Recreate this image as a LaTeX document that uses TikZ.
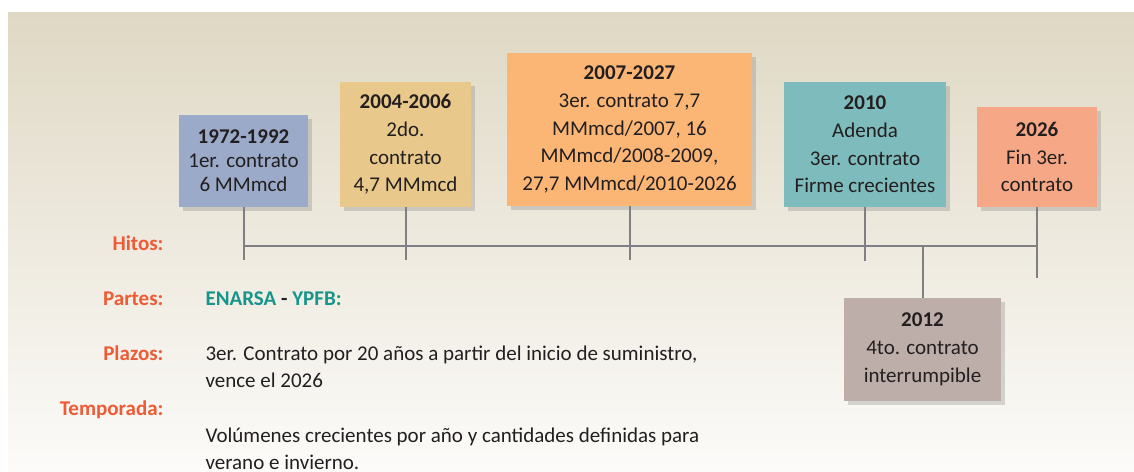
\documentclass[tikz,border=0pt]{standalone}
\usepackage{fontspec}
\setmainfont{Carlito}
\usetikzlibrary{shadows}

\definecolor{linegray}{HTML}{808084}
\definecolor{darktext}{HTML}{231F20}
\definecolor{rojo}{HTML}{EF5B35}
\definecolor{verde}{HTML}{16958A}
\definecolor{azul}{HTML}{9BAAC9}
\definecolor{ocre}{HTML}{E9C98B}
\definecolor{naranja}{HTML}{FBB676}
\definecolor{turquesa}{HTML}{7EBBBC}
\definecolor{salmon}{HTML}{F6A886}
\definecolor{gris}{HTML}{BDAEA9}

\tikzset{
  hito/.style={rectangle, inner sep=0pt, align=center, text=darktext,
    font=\fontsize{21}{27.7}\selectfont,
    drop shadow={shadow xshift=4pt, shadow yshift=-4pt, opacity=0.3}},
  etiqueta/.style={anchor=base east, text=rojo, font=\fontsize{21}{27}\selectfont\bfseries},
  texto/.style={anchor=base west, align=left, text=darktext, font=\fontsize{21}{27}\selectfont},
  linea/.style={linegray, line width=2pt}
}

\begin{document}
\begin{tikzpicture}[x=1pt, y=-1pt]

\useasboundingbox (0,0) rectangle (1134,471);
\fill[white] (0,0) rectangle (1134,471);
\shade[top color={rgb,255:red,223;green,216;blue,196}, middle color={rgb,255:red,237;green,232;blue,220},
  bottom color={rgb,255:red,252;green,251;blue,249}] (8,12) rectangle (1134,471);

% cajas
\node[hito, fill=azul, minimum width=129, minimum height=92,
  font=\fontsize{21}{24}\selectfont] (A) at (243.5,161)
  {\textbf{1972-1992}\\1er. contrato\\6 MMmcd};
\node[hito, fill=ocre, minimum width=131, minimum height=125] (B) at (405.5,144.5)
  {\textbf{2004-2006}\\2do.\\contrato\\4,7 MMmcd};
\node[hito, fill=naranja, minimum width=245, minimum height=153] (C) at (629.5,129.5)
  {\textbf{2007-2027}\\3er. contrato 7,7\\MMmcd/2007, 16\\MMmcd/2008-2009,\\27,7 MMmcd/2010-2026};
\node[hito, fill=turquesa, minimum width=162, minimum height=125] (D) at (865,144.5)
  {\textbf{2010}\\Adenda\\3er. contrato\\Firme crecientes};
\node[hito, fill=salmon, minimum width=120, minimum height=100] (E) at (1037,157)
  {\textbf{2026}\\Fin 3er.\\contrato};
\node[hito, fill=gris, minimum width=157, minimum height=103] (F) at (922.5,349.5)
  {\textbf{2012}\\4to. contrato\\interrumpible};

% linea de tiempo
\coordinate (L1) at (A.south |- 0,246);
\coordinate (L2) at (E.south |- 0,246);
\coordinate (L3) at (F.north |- 0,246);
\draw[linea] (L1)--(L2);
\draw[linea] (A.south)--(A.south |- 0,260);
\draw[linea] (B.south)--(B.south |- 0,260);
\draw[linea] (C.south)--(C.south |- 0,260);
\draw[linea] (D.south)--(D.south |- 0,261);
\draw[linea] (E.south)--(E.south |- 0,278);
\draw[linea] (L3)--(F.north);

% etiquetas
\node[etiqueta] (hitos) at (167,250) {Hitos:};
\node[etiqueta] (partes) at (167,305) {Partes:};
\node[etiqueta] (plazos) at (167,360) {Plazos:};
\node[etiqueta] (temporada) at (167,415) {Temporada:};

\node[texto, font=\fontsize{21}{27}\selectfont\bfseries] (empresas) at (202,305)
  {\textcolor{verde}{ENARSA} - \textcolor{verde}{YPFB:}};
\node[texto] (plazo) at (202,387)
  {3er. Contrato por 20 años a partir del inicio de suministro,\\vence el 2026};
\node[texto] (volumen) at (202,469)
  {Volúmenes crecientes por año y cantidades definidas para\\verano e invierno.};

\end{tikzpicture}
\end{document}
